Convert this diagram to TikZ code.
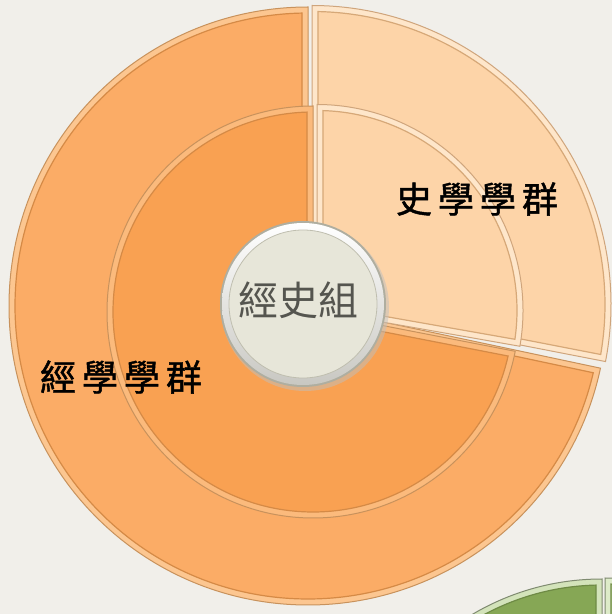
\documentclass[tikz,border=0pt]{standalone}
\usepackage{fontspec}
\newfontfamily\cjk{Noto Sans CJK TC}
\newfontfamily\cjkbold[FakeBold=1.2]{Noto Sans CJK TC}
\usetikzlibrary{calc}
\definecolor{bg}{HTML}{F1EFEA}
\definecolor{orOut}{HTML}{FBAC66}
\definecolor{orOutBand}{HTML}{FCC690}
\definecolor{orIn}{HTML}{F9A152}
\definecolor{orInBand}{HTML}{FBBA7C}
\definecolor{orLine}{HTML}{D58A46}
\definecolor{orEdge}{HTML}{C8925C}
\definecolor{pe}{HTML}{FDD4A8}
\definecolor{peBand}{HTML}{FEE6CA}
\definecolor{peLine}{HTML}{D6A878}
\definecolor{peEdge}{HTML}{CFA57C}
\definecolor{grFill}{HTML}{86A755}
\definecolor{grBand}{HTML}{D3E3BA}
\definecolor{grLine}{HTML}{6E8A45}
\definecolor{grEdge}{HTML}{7F8A70}
\definecolor{grLight}{HTML}{B9D194}
\definecolor{grLightBand}{HTML}{DDEBC8}
\definecolor{cEdge}{HTML}{AFAEA0}
\definecolor{cBand}{HTML}{F3F2EA}
\definecolor{cFace}{HTML}{E7E6D9}
\definecolor{cLine}{HTML}{BFBEAF}
\definecolor{cText}{HTML}{55554F}
% #1 centre, #2 start angle, #3 end angle, #4 radius, #5 edge, #6 band, #7 inner line, #8 fill
\newcommand{\bevpie}[8]{%
  \pgfmathsetmacro\bpdel{asin(6/(#4-6))}%
  \pgfmathsetmacro\bpbis{(#2+#3)/2}%
  \pgfmathsetmacro\bpap{6/sin((#3-#2)/2)}%
  \pgfmathsetmacro\bpa{#2+\bpdel}%
  \pgfmathsetmacro\bpb{#3-\bpdel}%
  \pgfmathsetmacro\bpr{#4-6}%
  \filldraw[fill=#6,draw=#5,line width=1pt] (#1) -- ($(#1)+(#2:#4)$) arc[start angle=#2,end angle=#3,radius=#4] -- cycle;
  \filldraw[fill=#8,draw=#7,line width=1.2pt] ($(#1)+(\bpbis:\bpap)$) -- ($(#1)+(\bpa:\bpr)$) arc[start angle=\bpa,end angle=\bpb,radius=\bpr] -- cycle;
}
\tikzset{
  label/.style={font=\cjkbold\fontsize{36}{36}\selectfont, text=black, inner sep=0pt},
  centertext/.style={font=\cjk\fontsize{40}{40}\selectfont, text=cText, inner sep=0pt}
}
\begin{document}
\begin{tikzpicture}[x=1pt,y=1pt]
\path[use as bounding box, fill=bg] (0,0) rectangle (612,614);
\clip (0,0) rectangle (612,614);
% coordinates
\coordinate (G) at (602,-220);
\coordinate (G2) at (605,-219);
\coordinate (O) at (308,308);
\coordinate (O2) at (312,309.5);
\coordinate (I) at (313,302);
\coordinate (I2) at (317,303.5);
\coordinate (C) at (303,310);
% green circle (partly visible)
\bevpie{G}{90}{220}{255}{grEdge}{grBand}{grLine}{grFill}
\bevpie{G2}{-40}{90}{255}{grEdge}{grLightBand}{grLine}{grLight}
% outer ring
\bevpie{O}{90}{348}{299}{orEdge}{orOutBand}{orLine}{orOut}
\bevpie{O2}{-11}{90}{299}{peEdge}{peBand}{peLine}{pe}
% inner ring
\bevpie{I}{90}{349}{206}{orEdge}{orInBand}{orLine}{orIn}
\bevpie{I2}{-10}{90}{206}{peEdge}{peBand}{peLine}{pe}
% centre circle
\fill[black!25, opacity=0.5] ($(C)+(2,-3)$) circle (84);
\fill[cEdge] (C) circle (83);
\shade[top color=white, bottom color=cBand!80!black!90] (C) circle (81);
\fill[cFace] (C) circle (74);
\draw[cLine, line width=0.8pt] (C) circle (74);
\node[centertext] (ct) at (298,314) {經史組};
% labels
\node[label] (l1) at (477,415) {史\hspace{6pt}學\hspace{6pt}學\hspace{6pt}群};
\node[label] (l2) at (121,237) {經\hspace{6pt}學\hspace{6pt}學\hspace{6pt}群};
\end{tikzpicture}
\end{document}
